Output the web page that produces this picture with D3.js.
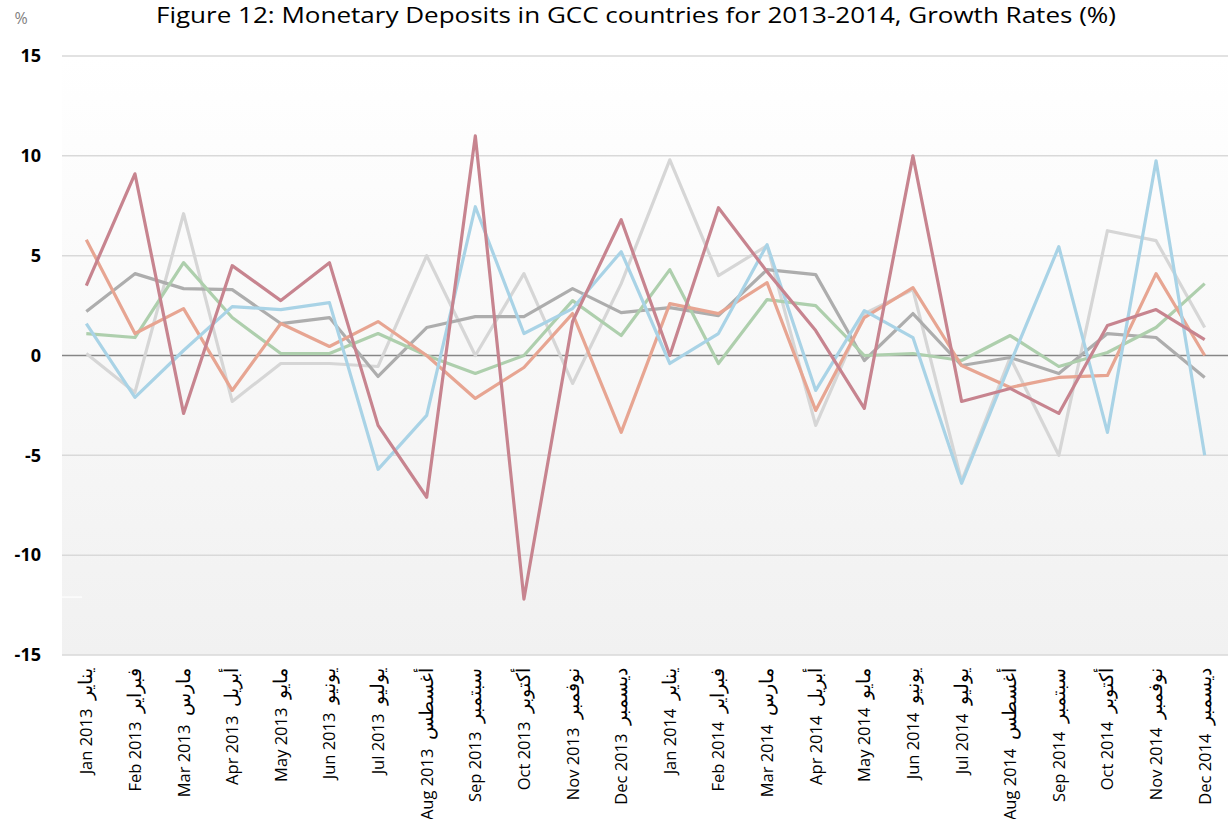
<!DOCTYPE html>
<html>
<head>
<meta charset="utf-8">
<script src="https://cdn.jsdelivr.net/npm/d3@7"></script>
<style>
  body { margin: 0; background: #fff; }
  text { font-family: "Open Sans", sans-serif; }
</style>
</head>
<body>
<div id="app"></div>
<script>
let width = 1228;
let height = 819;

let months = ["Jan 2013","Feb 2013","Mar 2013","Apr 2013","May 2013","Jun 2013","Jul 2013","Aug 2013","Sep 2013","Oct 2013","Nov 2013","Dec 2013",
  "Jan 2014","Feb 2014","Mar 2014","Apr 2014","May 2014","Jun 2014","Jul 2014","Aug 2014","Sep 2014","Oct 2014","Nov 2014","Dec 2014"];
let arMonths = ["يناير","فبراير","مارس","أبريل","مايو","يونيو","يوليو","أغسطس","سبتمبر","أكتوبر","نوفمبر","ديسمبر"];
let yTicks = [15, 10, 5, 0, -5, -10, -15];

// six GCC series, no legend in the source
let seriesRose   = [3.5, 9.1, -2.9, 4.5, 2.75, 4.65, -3.5, -7.1, 11.0, -12.2, 1.7, 6.8, 0.0, 7.4, 4.2, 1.25, -2.65, 10.0, -2.3, -1.65, -2.9, 1.5, 2.3, 0.8];
let seriesSalmon = [5.8, 1.1, 2.35, -1.75, 1.6, 0.45, 1.7, 0.0, -2.15, -0.6, 2.1, -3.85, 2.6, 2.1, 3.65, -2.75, 1.9, 3.4, -0.5, -1.6, -1.1, -1.0, 4.1, 0.0];
let seriesGray   = [2.2, 4.1, 3.35, 3.3, 1.6, 1.9, -1.05, 1.4, 1.95, 1.95, 3.35, 2.15, 2.4, 2.0, 4.3, 4.05, -0.25, 2.1, -0.5, -0.1, -0.9, 1.1, 0.9, -1.1];
let seriesSilver = [0.1, -1.85, 7.1, -2.3, -0.4, -0.4, -0.55, 5.0, 0.0, 4.1, -1.4, 3.6, 9.8, 4.0, 5.5, -3.5, 2.1, 3.3, -6.3, -0.1, -5.0, 6.25, 5.75, 1.4];
let seriesGreen  = [1.1, 0.9, 4.65, 1.9, 0.1, 0.1, 1.1, 0.0, -0.9, 0.0, 2.75, 1.0, 4.3, -0.4, 2.8, 2.5, 0.0, 0.1, -0.25, 1.0, -0.55, 0.15, 1.4, 3.6];
let seriesBlue   = [1.6, -2.1, 0.25, 2.45, 2.3, 2.65, -5.7, -3.0, 7.45, 1.1, 2.35, 5.2, -0.4, 1.1, 5.55, -1.75, 2.25, 0.9, -6.4, -0.4, 5.45, -3.85, 9.75, -5.0];

let lines = [
  { values: seriesSilver, color: "#d6d6d6" },
  { values: seriesGray,   color: "#adadad" },
  { values: seriesGreen,  color: "#aecfad" },
  { values: seriesSalmon, color: "#e7a592" },
  { values: seriesBlue,   color: "#a9d3e6" },
  { values: seriesRose,   color: "#c7848f" }
];

let margin = { top: 56, right: -1, bottom: 164, left: 62 };

let svg = d3.select("#app").append("svg")
  .attr("width", width)
  .attr("height", height);

let defs = svg.append("defs");
let grad = defs.append("linearGradient")
  .attr("id", "bg")
  .attr("x1", 0).attr("y1", 0).attr("x2", 0).attr("y2", 1);
grad.append("stop").attr("offset", "0%").attr("stop-color", "#ffffff");
grad.append("stop").attr("offset", "100%").attr("stop-color", "#f1f1f1");

let x = d3.scalePoint()
  .domain(months)
  .range([margin.left, width - margin.right])
  .padding(0.5);

let y = d3.scaleLinear()
  .domain([-15, 15])
  .range([height - margin.bottom, margin.top]);

svg.append("rect")
  .attr("x", margin.left)
  .attr("y", margin.top)
  .attr("width", width - margin.right - margin.left)
  .attr("height", y(-15) - y(15))
  .attr("fill", "url(#bg)");

// gridlines
svg.append("g")
  .selectAll("line")
  .data(yTicks.filter(d => d !== 0))
  .join("line")
  .attr("x1", margin.left)
  .attr("x2", width)
  .attr("y1", d => y(d))
  .attr("y2", d => y(d))
  .attr("stroke", "#d9d9d9")
  .attr("stroke-width", 1.5);

// little white tick left on the source
svg.append("line")
  .attr("x1", margin.left).attr("x2", margin.left + 20)
  .attr("y1", y(-12.1)).attr("y2", y(-12.1))
  .attr("stroke", "#fff")
  .attr("stroke-width", 1.2);

svg.append("line")
  .attr("x1", margin.left).attr("x2", width)
  .attr("y1", y(0)).attr("y2", y(0))
  .attr("stroke", "#868686")
  .attr("stroke-width", 1.5);

// y labels
svg.append("g")
  .selectAll("text")
  .data(yTicks)
  .join("text")
  .attr("x", 41)
  .attr("y", d => y(d))
  .attr("dy", "0.35em")
  .attr("text-anchor", "end")
  .attr("font-size", 18)
  .attr("font-weight", "bold")
  .attr("fill", "#000")
  .text(d => d);

svg.append("text")
  .attr("x", 21)
  .attr("y", 24)
  .attr("text-anchor", "middle")
  .attr("font-size", 16)
  .attr("fill", "#7f7f7f")
  .text("%");

svg.append("text")
  .attr("x", 636)
  .attr("y", 23)
  .attr("text-anchor", "middle")
  .attr("font-size", 21)
  .attr("textLength", 960)
  .attr("lengthAdjust", "spacingAndGlyphs")
  .attr("fill", "#000")
  .text("Figure 12: Monetary Deposits in GCC countries for 2013-2014, Growth Rates (%)");

// x labels
let xLabels = svg.append("g")
  .selectAll("text")
  .data(months)
  .join("text")
  .attr("transform", d => `translate(${x(d) + 6},${y(-15) + 13}) rotate(-90)`)
  .attr("text-anchor", "end")
  .attr("font-size", 16.5)
  .attr("fill", "#000");

xLabels.append("tspan").text(d => d + "\u00a0\u00a0");
xLabels.append("tspan")
  .attr("font-size", 19)
  .text((d, i) => arMonths[i % 12]);

let line = d3.line()
  .x((d, i) => x(months[i]))
  .y(d => y(d));

svg.append("g")
  .selectAll("path")
  .data(lines)
  .join("path")
  .attr("fill", "none")
  .attr("stroke", d => d.color)
  .attr("stroke-width", 3.2)
  .attr("stroke-linejoin", "round")
  .attr("d", d => line(d.values));
</script>
</body>
</html>
